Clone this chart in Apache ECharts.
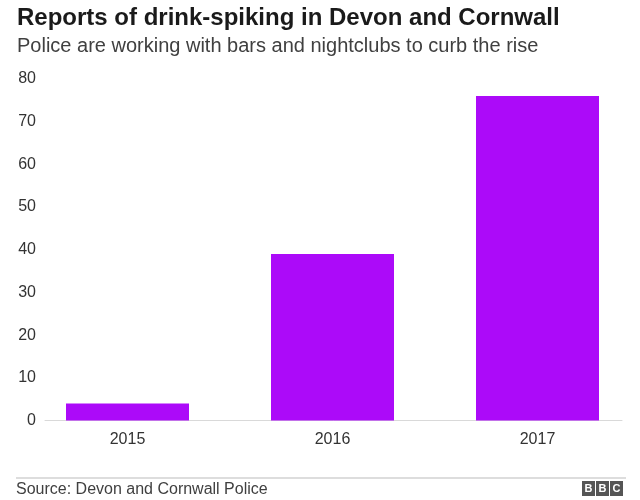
<!DOCTYPE html>
<html><head><meta charset="utf-8">
<script src="https://cdn.jsdelivr.net/npm/echarts@6/dist/echarts.min.js"></script>
<style>html,body{margin:0;padding:0;background:#fff}#c{width:640px;height:500px}</style>
</head><body><div id="c"></div>
<script>
const categories = ['2015', '2016', '2017'];
const reports = [4, 39, 76];
const yTicks = [0, 10, 20, 30, 40, 50, 60, 70, 80];

const FONT = '"Liberation Sans", Arial, Helvetica, sans-serif';
const chart = echarts.init(document.getElementById('c'), null, {renderer: 'canvas'});
const gridTop = 79, gridBottom = 79.5;
chart.setOption({
  animation: false,
  textStyle: {fontFamily: FONT},
  title: [
    {text: 'Reports of drink-spiking in Devon and Cornwall', left: 17, top: 6, padding: 0,
     textStyle: {fontFamily: FONT, fontWeight: 'bold', fontSize: 24, color: '#1a1a1a'}},
    {text: 'Police are working with bars and nightclubs to curb the rise', left: 17, top: 36, padding: 0,
     textStyle: {fontFamily: FONT, fontWeight: 'normal', fontSize: 20, color: '#404040'}},
    {text: 'Source: Devon and Cornwall Police', left: 16, top: 482, padding: 0,
     textStyle: {fontFamily: FONT, fontWeight: 'normal', fontSize: 16, color: '#404040'}}
  ],
  grid: [
    {left: 25, right: 0, top: gridTop, bottom: gridBottom},
    {left: 45, right: 18, top: gridTop, bottom: gridBottom}
  ],
  xAxis: [
    {gridIndex: 0, type: 'category', data: categories,
     axisLine: {show: false}, axisTick: {show: false},
     axisLabel: {fontSize: 16, color: '#333', margin: 11, fontFamily: FONT}},
    {gridIndex: 1, type: 'value', min: 0, max: 1,
     axisLine: {show: true, lineStyle: {color: '#d9d9d9', width: 1}},
     axisTick: {show: false}, axisLabel: {show: false}, splitLine: {show: false}}
  ],
  yAxis: [
    {gridIndex: 0, type: 'value', min: yTicks[0], max: yTicks[yTicks.length - 1], interval: 10,
     show: false, splitLine: {show: false}},
    {gridIndex: 1, type: 'value', min: yTicks[0], max: yTicks[yTicks.length - 1], interval: 10,
     axisLine: {show: false}, axisTick: {show: false}, splitLine: {show: false},
     axisLabel: {fontSize: 16, color: '#333', margin: 9, fontFamily: FONT}}
  ],
  series: [{
    type: 'bar', xAxisIndex: 0, yAxisIndex: 0, data: reports,
    barWidth: 123, itemStyle: {color: '#ac0af9'}
  }],
  graphic: [
    {type: 'line', shape: {x1: 16, y1: 478, x2: 626, y2: 478}, style: {stroke: '#bbb', lineWidth: 1}},
    {type: 'group', left: 582, top: 481, children: ['B', 'B', 'C'].flatMap((ch, i) => [
      {type: 'rect', shape: {x: i * 14, y: 0, width: 13, height: 15}, style: {fill: '#555'}},
      {type: 'text', x: i * 14 + 6.5, y: 7.5, style: {text: ch, fill: '#fff', font: 'bold 11px ' + FONT, align: 'center', verticalAlign: 'middle'}}
    ])}
  ]
});
</script></body></html>
